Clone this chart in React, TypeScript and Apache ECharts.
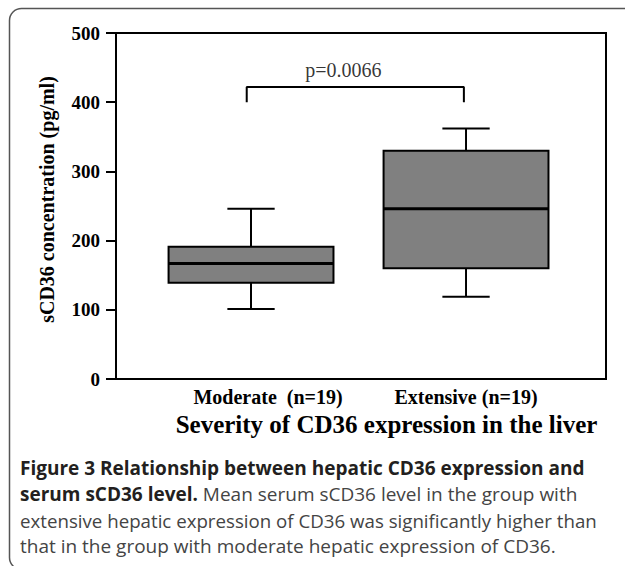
import React, { useEffect, useRef } from "react";
import * as echarts from "echarts";

// ---- data ----
const CATEGORIES = ["Moderate  (n=19)", "Extensive (n=19)"];
const GROUP_X = [1, 2];
const LOWER = [101, 119];
const Q1 = [139, 160];
const MEDIAN = [167, 246];
const Q3 = [191, 330];
const UPPER = [246, 362];
const BRACKET_X = [0.98, 1.99];
const BRACKET_Y = [400, 422];
const P_LABEL = "p=0.0066";
const P_POS = [1.43, 447];
const Y_MIN = 0;
const Y_MAX = 500;
const Y_STEP = 100;
const Y_TITLE = "sCD36 concentration (pg/ml)";
const X_TITLE = "Severity of CD36 expression in the liver";
const CAPTION_BOLD_1 = "Figure 3 Relationship between hepatic CD36 expression and";
const CAPTION_BOLD_2 = "serum sCD36 level.";
const CAPTION_2 = " Mean serum sCD36 level in the group with";
const CAPTION_3 = "extensive hepatic expression of CD36 was significantly higher than";
const CAPTION_4 = "that in the group with moderate hepatic expression of CD36.";

const SERIF = "'Liberation Serif', 'Times New Roman', serif";
const SANS = "'Open Sans', 'Noto Sans', sans-serif";

export default function App() {
  const ref = useRef<HTMLDivElement>(null);
  useEffect(() => {
    if (!ref.current) return;
    const chart = echarts.init(ref.current, null, { renderer: "svg" });
    const boxData = GROUP_X.map((x, i) => [x, LOWER[i], Q1[i], MEDIAN[i], Q3[i], UPPER[i]]);
    const BOX_W = 0.767;
    const CAP_W = 0.22;
    const option: any = {
      animation: false,
      backgroundColor: "#fff",
      grid: {
        left: 116,
        top: 33,
        right: 19,
        bottom: 187,
        show: true,
        borderColor: "#000",
        borderWidth: 2,
        backgroundColor: "transparent",
      },
      xAxis: {
        type: "value",
        min: 0.372,
        max: 2.651,
        splitLine: { show: false },
        axisLine: { show: true, onZero: false, lineStyle: { color: "#000", width: 2 } },
        axisTick: { show: false },
        axisLabel: {
          customValues: GROUP_X,
          margin: 8,
          color: "#000",
          fontFamily: SERIF,
          fontWeight: "bold",
          fontSize: 20,
          formatter: (v: number) => {
            const i = GROUP_X.indexOf(v);
            if (i < 0) return "";
            return i === 0 ? `{a|${CATEGORIES[i]}}` : `{b|${CATEGORIES[i]}}`;
          },
          rich: {
            a: { fontFamily: SERIF, fontWeight: "bold", fontSize: 20, color: "#000", padding: [0, 0, 0, 34] },
            b: { fontFamily: SERIF, fontWeight: "bold", fontSize: 20, color: "#000" },
          },
        },
        name: X_TITLE,
        nameLocation: "middle",
        nameGap: 31,
        nameTextStyle: {
          fontFamily: SERIF,
          fontWeight: "bold",
          fontSize: 25,
          color: "#000",
          padding: [0, 0, 0, 51],
        },
      },
      yAxis: {
        type: "value",
        min: Y_MIN,
        max: Y_MAX,
        interval: Y_STEP,
        splitLine: { show: false },
        axisLine: { show: true, lineStyle: { color: "#000", width: 2 } },
        axisTick: { show: true, length: 10, lineStyle: { color: "#000", width: 2 } },
        axisLabel: {
          margin: 16,
          color: "#000",
          fontFamily: SERIF,
          fontWeight: "bold",
          fontSize: 19,
        },
        name: Y_TITLE,
        nameLocation: "middle",
        nameGap: 59,
        nameTextStyle: {
          fontFamily: SERIF,
          fontWeight: "bold",
          fontSize: 20,
          color: "#000",
          padding: [0, 0, 0, 13],
        },
      },
      series: [
        {
          type: "custom",
          data: boxData,
          renderItem: (params: any, api: any) => {
            const x = api.value(0);
            const lo = api.coord([x, api.value(1)]);
            const q1 = api.coord([x, api.value(2)]);
            const md = api.coord([x, api.value(3)]);
            const q3 = api.coord([x, api.value(4)]);
            const hi = api.coord([x, api.value(5)]);
            const bw = api.size([BOX_W, 0])[0];
            const cw = api.size([CAP_W, 0])[0];
            const cx = lo[0];
            const line = (x1: number, y1: number, x2: number, y2: number, w: number) => ({
              type: "line",
              shape: { x1, y1, x2, y2 },
              style: { stroke: "#000", lineWidth: w },
            });
            return {
              type: "group",
              children: [
                line(cx, q3[1], cx, hi[1], 2),
                line(cx - cw / 2, hi[1], cx + cw / 2, hi[1], 2),
                line(cx, q1[1], cx, lo[1], 2),
                line(cx - cw / 2, lo[1], cx + cw / 2, lo[1], 2),
                {
                  type: "rect",
                  shape: { x: cx - bw / 2, y: q3[1], width: bw, height: q1[1] - q3[1] },
                  style: { fill: "#808080", stroke: "#000", lineWidth: 2 },
                },
                line(cx - bw / 2, md[1], cx + bw / 2, md[1], 3),
              ],
            };
          },
          z: 3,
        },
        {
          type: "line",
          data: [
            [BRACKET_X[0], BRACKET_Y[0]],
            [BRACKET_X[0], BRACKET_Y[1]],
            [BRACKET_X[1], BRACKET_Y[1]],
            [BRACKET_X[1], BRACKET_Y[0]],
          ],
          symbol: "none",
          lineStyle: { color: "#000", width: 2 },
          silent: true,
        },
        {
          type: "scatter",
          data: [P_POS],
          symbolSize: 0,
          label: {
            show: true,
            position: "inside",
            formatter: P_LABEL,
            fontFamily: SERIF,
            fontSize: 20,
            color: "#000",
          },
          silent: true,
        },
      ],
      graphic: [
        {
          type: "rect",
          x: 9.5,
          y: 8.5,
          shape: { x: 0, y: 0, width: 700, height: 561, r: 12 },
          style: { fill: "none", stroke: "#555", lineWidth: 1.5 },
          silent: true,
        },
        {
          type: "text",
          x: 20,
          y: 468,
          style: {
            text: CAPTION_BOLD_1,
            fontFamily: SANS,
            fontWeight: "bold",
            fontSize: 19,
            fill: "#231f20",
            verticalAlign: "middle",
          },
        },
        {
          type: "text",
          x: 20,
          y: 494,
          style: {
            text: `{b|${CAPTION_BOLD_2}}{r|${CAPTION_2}}`,
            verticalAlign: "middle",
            rich: {
              b: { fontFamily: SANS, fontWeight: "bold", fontSize: 19, fill: "#231f20" },
              r: { fontFamily: SANS, fontSize: 19, fill: "#444" },
            },
          },
        },
        {
          type: "text",
          x: 20,
          y: 520,
          style: { text: CAPTION_3, fontFamily: SANS, fontSize: 18.7, fill: "#444", verticalAlign: "middle" },
        },
        {
          type: "text",
          x: 20,
          y: 546,
          style: { text: CAPTION_4, fontFamily: SANS, fontSize: 19, fill: "#444", verticalAlign: "middle" },
        },
      ],
    };
    chart.setOption(option);
    return () => chart.dispose();
  }, []);
  return (
    <div
      ref={ref}
      style={{ position: "fixed", left: 0, top: 0, width: 625, height: 566, background: "#fff" }}
    />
  );
}
